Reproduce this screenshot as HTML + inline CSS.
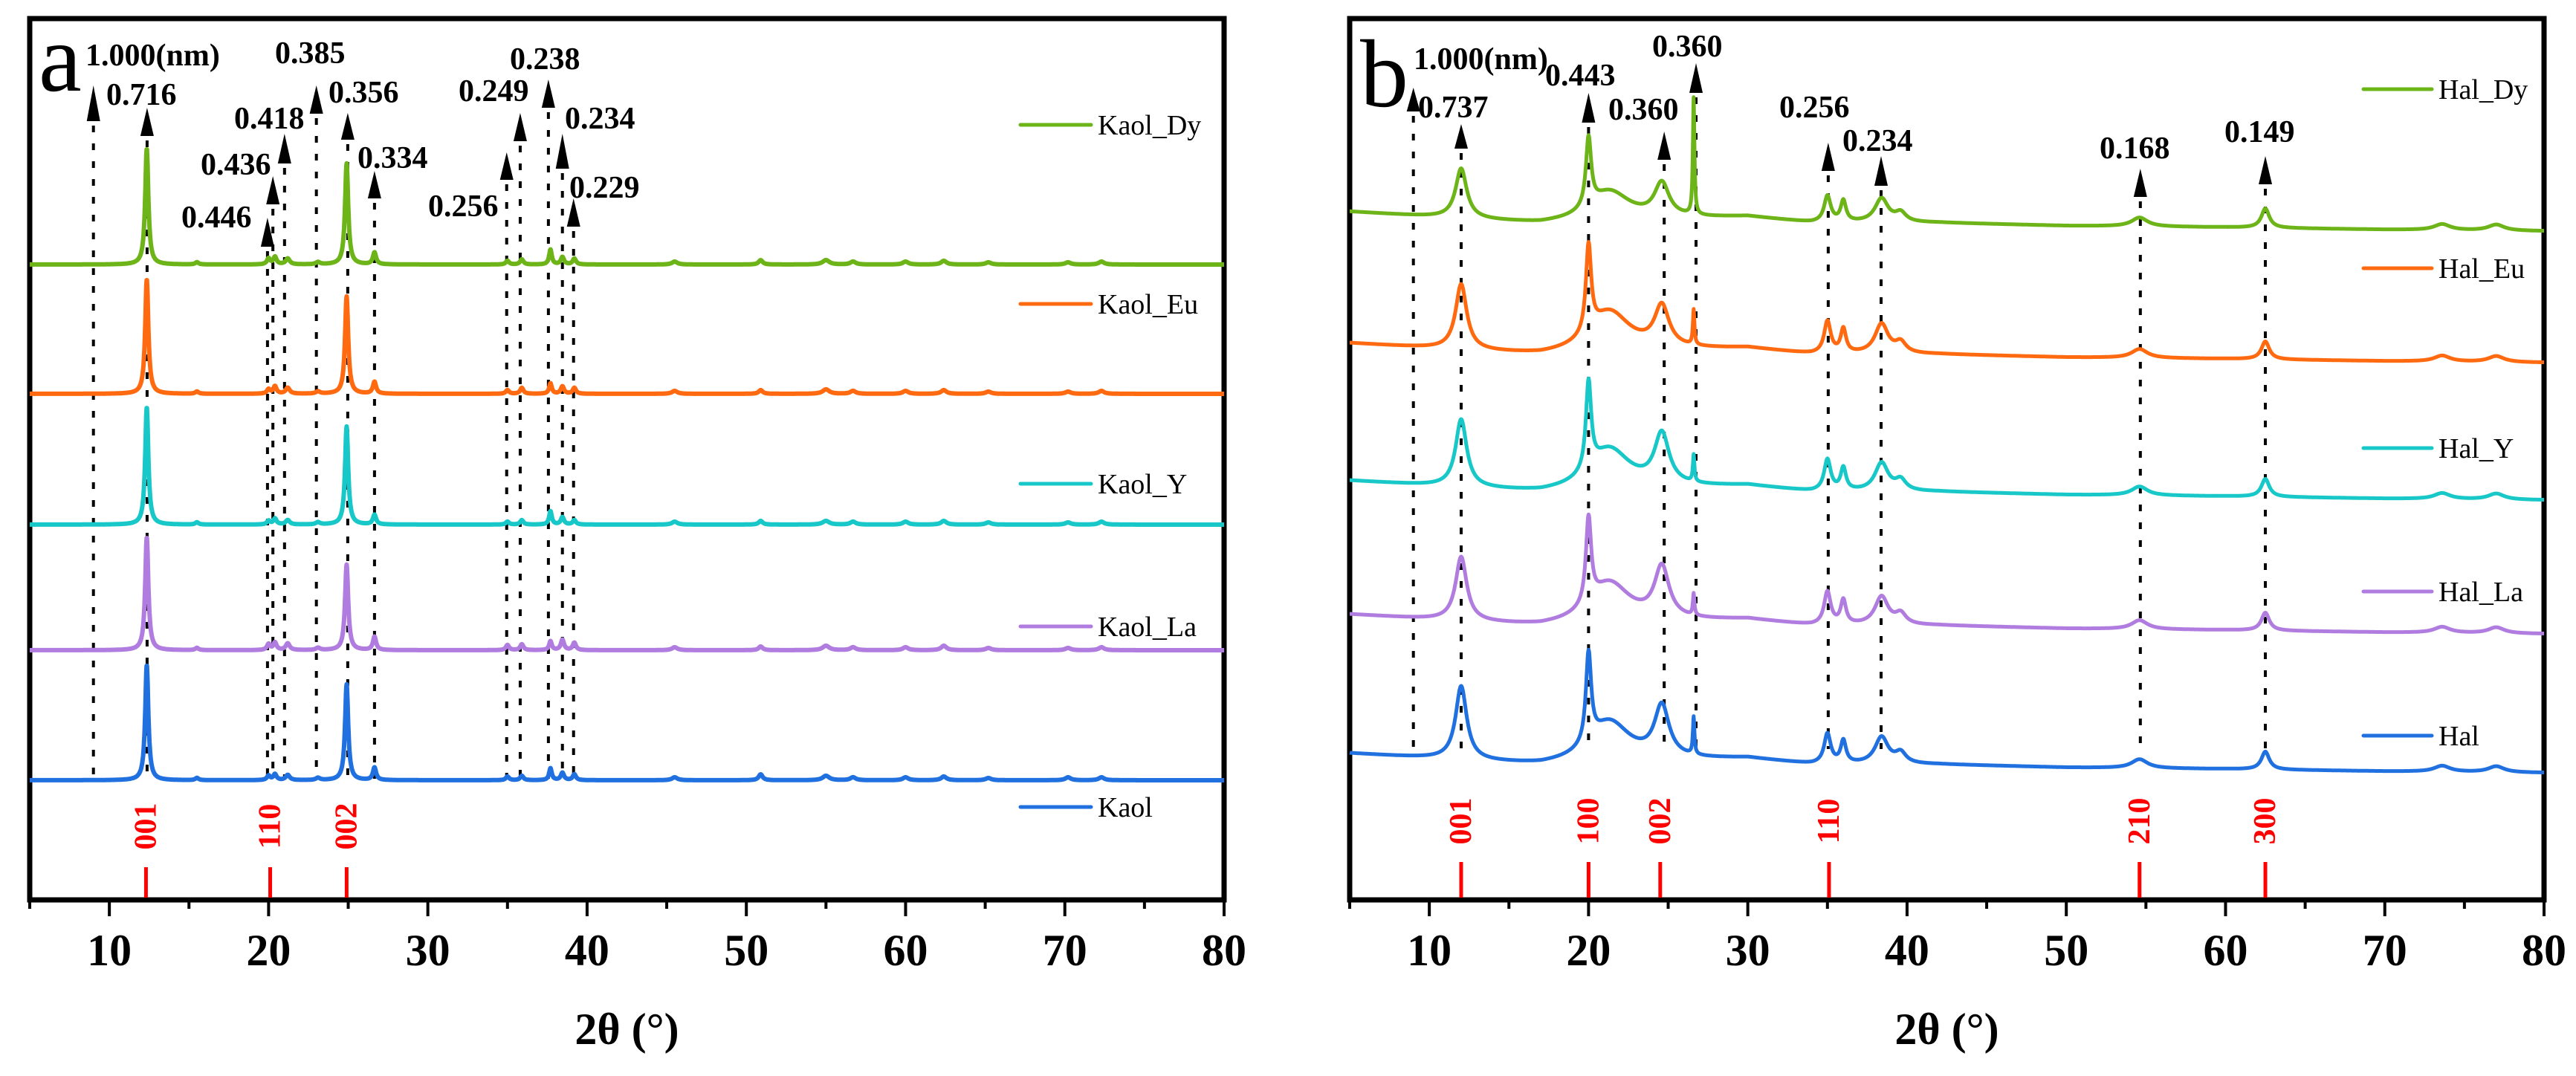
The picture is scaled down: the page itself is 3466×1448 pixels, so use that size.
<!DOCTYPE html>
<html><head><meta charset="utf-8"><title>XRD patterns</title>
<style>
html,body{margin:0;padding:0;background:#fff;}
svg{display:block;}
text{font-family:"Liberation Serif","Times New Roman",serif;}
.ann{font-weight:bold;font-size:42px;fill:#000;}
.tick{font-weight:bold;font-size:60px;fill:#000;}
.leg{font-size:38px;fill:#000;}
.hkl{font-weight:bold;font-size:42px;fill:#ff0000;}
</style></head>
<body>
<svg id="fig" width="3466" height="1448" viewBox="0 0 3466 1448" xmlns="http://www.w3.org/2000/svg" font-family="Liberation Serif, Times New Roman, serif">
<g id="panelA"></g>
<g id="panelB"></g>
</svg>
<script>
// ---------- Panel a data ----------
const seriesNamesA = ["Kaol_Dy","Kaol_Eu","Kaol_Y","Kaol_La","Kaol"];
const offsetsA = [855, 681, 505, 336, 161];
const peakPosA = [12.35, 15.5, 20.0, 20.4, 21.2, 23.1, 24.9, 26.65, 35.0, 35.9, 37.7, 38.45, 39.2, 45.5, 50.9, 55.0, 56.7, 60.0, 62.4, 65.2, 70.2, 72.3];
const peakGamA = [0.12, 0.12, 0.12, 0.12, 0.15, 0.15, 0.12, 0.12, 0.12, 0.12, 0.1, 0.12, 0.12, 0.2, 0.15, 0.25, 0.2, 0.2, 0.2, 0.2, 0.2, 0.2];
const heightsA_Dy = [156, 3, 8, 10, 8, 3, 136, 16, 5, 7, 20, 10, 8, 4, 6, 6, 4, 4, 5, 3, 3, 4];
const heightsA_Eu = [154, 3, 6, 10, 8, 3, 131, 16, 5, 8, 14, 10, 8, 4, 5, 6, 4, 4, 5, 3, 3, 4];
const heightsA_Y  = [158, 3, 5, 8, 6, 3, 132, 13, 4, 6, 18, 10, 6, 4, 5, 5, 4, 4, 5, 3, 3, 4];
const heightsA_La = [152, 3, 8, 10, 9, 3, 115, 18, 7, 8, 12, 14, 10, 4, 5, 6, 4, 4, 6, 3, 3, 4];
const heightsA_K  = [155, 3, 6, 8, 7, 3, 129, 17, 5, 6, 16, 10, 8, 4, 8, 6, 4, 4, 5, 3, 4, 4];
const heightsA = [heightsA_Dy, heightsA_Eu, heightsA_Y, heightsA_La, heightsA_K];
const hklA = ["001","110","002"];
const hklPosA = [12.3, 20.1, 24.9];
const annTextA = ["1.000(nm)","0.716","0.446","0.436","0.418","0.385","0.356","0.334","0.256","0.249","0.238","0.234","0.229"];
const annPosA  = [9.0, 12.37, 19.93, 20.27, 21.0, 23.0, 24.97, 26.65, 34.95, 35.8, 37.57, 38.45, 39.15];

// ---------- Panel b data ----------
const seriesNamesB = ["Hal_Dy","Hal_Eu","Hal_Y","Hal_La","Hal"];
const offsetsB = [909, 732, 547, 367, 180];
const baseAngB = [5, 10, 17, 30, 34, 42, 50, 60, 70, 80];
const baseShapeB = [17, 10, 0, 10, 2, 2, -2, -4, -7, -9];
const peakPosB = [12.0, 20.0, 21.3, 24.6, 26.6, 35.0, 36.0, 38.4, 39.6, 54.6, 62.5, 73.6, 77.0];
const peakGamB = [0.42, 0.2, 1.6, 0.55, 0.06, 0.25, 0.2, 0.5, 0.4, 0.6, 0.3, 0.6, 0.6];
const heightsB_Dy = [67, 93, 40, 45, 157, 35, 28, 32, 12, 12, 26, 8, 8];
const heightsB_Eu = [88, 117, 55, 55, 47, 43, 32, 40, 14, 12, 24, 8, 8];
const heightsB_Y  = [91, 118, 55, 68, 36, 42, 30, 38, 14, 12, 24, 8, 8];
const heightsB_La = [86, 115, 55, 69, 29, 44, 32, 38, 14, 12, 24, 8, 8];
const heightsB_H  = [99, 120, 55, 69, 50, 40, 30, 36, 14, 12, 24, 8, 8];
const heightsB = [heightsB_Dy, heightsB_Eu, heightsB_Y, heightsB_La, heightsB_H];
const hklB = ["001","100","002","110","210","300"];
const hklPosB = [12.0, 20.0, 24.5, 35.1, 54.6, 62.5];
const annTextB = ["1.000(nm)","0.737","0.443","0.360","0.360","0.256","0.234","0.168","0.149"];
const annPosB  = [9.0, 12.0, 20.0, 24.75, 26.75, 35.05, 38.37, 54.65, 62.5];

const xTicks = [10,20,30,40,50,60,70,80];
const xTickLabels = ["10","20","30","40","50","60","70","80"];
const colors = ["#6cb418","#ff6a10","#18c8c8","#b07ce0","#2070e0"];

// ---------- layout ----------
const NS = "http://www.w3.org/2000/svg";
const FONT = "Liberation Serif, Times New Roman, serif";
const Y0 = 1211, TOP = 25;
const PA = {left:40, right:1647, g:document.getElementById("panelA"), id:"a"};
const PB = {left:1816, right:3423, g:document.getElementById("panelB"), id:"b"};
function xs(P, t){ return P.left + (t-5)*(P.right-P.left)/75; }
function ys(v){ return Y0 - v; }
function mk(tag, attrs, parent){
  const e = document.createElementNS(NS, tag);
  for (const k in attrs) e.setAttribute(k, attrs[k]);
  if (tag === "text") e.setAttribute("font-family", FONT);
  parent.appendChild(e); return e;
}
function lor(t, pos, gam, h){
  let s = 0;
  for (let i=0;i<pos.length;i++){ const d=(t-pos[i])/gam[i]; s += h[i]/(1+d*d); }
  return s;
}
function interp(t, xa, ya){
  if (t<=xa[0]) return ya[0];
  for (let i=1;i<xa.length;i++) if (t<=xa[i]) return ya[i-1]+(ya[i]-ya[i-1])*(t-xa[i-1])/(xa[i]-xa[i-1]);
  return ya[ya.length-1];
}

function drawAxes(P){
  const g = P.g;
  const frame = mk("rect",{x:P.left,y:TOP,width:P.right-P.left,height:Y0-TOP,fill:"none",stroke:"#000","stroke-width":7},g);
  
  
  for (let t=5;t<=80;t+=5){
    const major = (t%10===0);
    const tk = mk("line",{x1:xs(P,t),x2:xs(P,t),y1:Y0,y2:Y0+(major?22:12),stroke:"#000","stroke-width":4},g);
    
    
  }
  xTicks.forEach((t,i)=>{
    const tl = mk("text",{x:xs(P,t),y:1299,"text-anchor":"middle",class:"tick"},g);
    tl.textContent = xTickLabels[i];
    
    
  });
  const at = mk("text",{x:(P.left+P.right)/2,y:1405,"text-anchor":"middle",class:"tick","font-size":"58"},g);
  at.textContent = "2θ (°)";
  
  
}

function drawSeries(P, names, valFn, legY, legX1, legX2, width){
  names.forEach((nm,si)=>{
    let d = "";
    for (let t=5; t<=80.0001; t+=0.02){
      const v = valFn(si,t);
      d += (d?"L":"M")+xs(P,t).toFixed(1)+","+ys(v).toFixed(1);
    }
    const p = mk("path",{d:d,fill:"none",stroke:colors[si],"stroke-width":width,"stroke-linejoin":"round"},P.g);
    
    
    const lg = mk("g",{},P.g);
    
    
    mk("line",{x1:legX1,x2:legX2,y1:legY[si],y2:legY[si],stroke:colors[si],"stroke-width":5,"stroke-linecap":"round"},lg);
    const lt = mk("text",{x:legX2+9,y:legY[si]+13,class:"leg"},lg);
    lt.textContent = nm;
  });
}

function drawAnn(P, texts, pos, tx, ty, tip, base, endY){
  texts.forEach((s,i)=>{
    const g = mk("g",{},P.g);
    
    
    const x = xs(P,pos[i]);
    mk("line",{x1:x,x2:x,y1:base[i]+6,y2:endY,stroke:"#000","stroke-width":4,"stroke-dasharray":"9 15"},g);
    mk("polygon",{points:`${x},${tip[i]} ${x-9},${base[i]} ${x+9},${base[i]}`,fill:"#000"},g);
    const t = mk("text",{x:tx[i],y:ty[i],class:"ann"},g);
    t.textContent = s;
  });
}

function drawHkl(P, labels, pos, cy){
  labels.forEach((s,i)=>{
    const x = xs(P,pos[i]);
    const g = mk("g",{},P.g);
    
    
    mk("line",{x1:x,x2:x,y1:cy+55,y2:Y0-3,stroke:"#ff0000","stroke-width":5},g);
    const t = mk("text",{x:x,y:cy,class:"hkl","text-anchor":"middle","dominant-baseline":"central",transform:`rotate(-90 ${x} ${cy})`},g);
    t.textContent = s;
  });
}

// ---- Panel a ----
drawAxes(PA);
drawAnn(PA, annTextA, annPosA,
  [115,143,244,270,315,370,442,481,576,617,686,760,766],
  [88,141,306,235,173,85,138,226,291,136,93,173,266],
  [115,145,293,237,180,115,152,230,205,152,107,180,267],
  [163,183,332,275,220,153,188,267,242,190,145,227,305], 1048);
drawSeries(PA, seriesNamesA, (si,t)=>offsetsA[si]+lor(t,peakPosA,peakGamA,heightsA[si]),
  [168,409,651,843,1086], 1373, 1468, 6);
drawHkl(PA, hklA, hklPosA, 1112);
const la = mk("text",{x:52,y:122,"font-size":"130"},PA.g);
la.textContent = "a";



// ---- Panel b ----
drawAxes(PB);
drawAnn(PB, annTextB, annPosB,
  [1902,1908,2079,2164,2223,2394,2479,2825,2993],
  [93,158,115,161,76,158,203,213,191],
  [118,167,125,177,85,192,210,227,210],
  [150,200,165,215,125,230,250,265,248], 1008);
drawSeries(PB, seriesNamesB, (si,t)=>offsetsB[si]+interp(t,baseAngB,baseShapeB)+lor(t,peakPosB,peakGamB,heightsB[si]),
  [120,361,603,796,990], 3180, 3272, 5);
drawHkl(PB, hklB, hklPosB, 1105);
const lb = mk("text",{x:1830,y:143,"font-size":"130"},PB.g);
lb.textContent = "b";


</script>
</body></html>
